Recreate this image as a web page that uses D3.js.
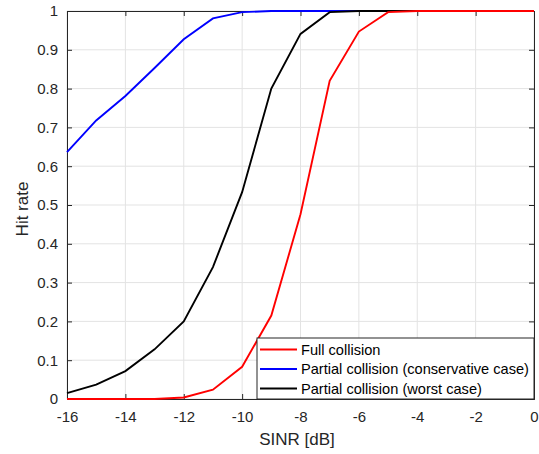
<!DOCTYPE html>
<html><head><meta charset="utf-8">
<script src="https://cdn.jsdelivr.net/npm/d3@7"></script>
<style>body{margin:0;background:#fff}svg{display:block}text{font-family:"Liberation Sans",Arial,sans-serif}</style>
</head><body><svg id="c" width="539" height="454"></svg>
<script>
const sinr = [-16,-15,-14,-13,-12,-11,-10,-9,-8,-7,-6,-5,-4,-3,-2,-1,0];
const fullCollision = [0,0,0,0,0.004,0.024,0.083,0.215,0.476,0.82,0.947,0.997,1,1,1,1,1];
const partialConservative = [0.636,0.718,0.781,0.853,0.927,0.981,0.997,1,1,1,1,1,1,1,1,1,1];
const partialWorst = [0.015,0.037,0.072,0.128,0.2,0.34,0.533,0.80,0.941,0.997,1,1,1,1,1,1,1];
const xTicks = [-16,-14,-12,-10,-8,-6,-4,-2,0];
const yTicks = [0,0.1,0.2,0.3,0.4,0.5,0.6,0.7,0.8,0.9,1];
const seriesNames = ["Full collision","Partial collision (conservative case)","Partial collision (worst case)"];
const seriesColors = ["#ff0000","#0000ff","#000000"];
const seriesData = [fullCollision, partialConservative, partialWorst];

const svg = d3.select("#c");
const L=67,R=534,T=11,B=399;
const x = d3.scaleLinear().domain([-16,0]).range([L,R]);
const y = d3.scaleLinear().domain([0,1]).range([B,T]);

// grid
svg.append("g").selectAll("line").data(xTicks).join("line")
  .attr("x1",d=>x(d)).attr("x2",d=>x(d)).attr("y1",T).attr("y2",B)
  .attr("stroke","#e3e3e3").attr("stroke-width",1);
svg.append("g").selectAll("line").data(yTicks).join("line")
  .attr("y1",d=>y(d)).attr("y2",d=>y(d)).attr("x1",L).attr("x2",R)
  .attr("stroke","#e3e3e3").attr("stroke-width",1);

// axes
const ax = svg.append("g").attr("transform",`translate(0,${B})`)
  .call(d3.axisBottom(x).tickValues(xTicks).tickSize(-5).tickPadding(12).tickFormat(d=>String(d)));
const ay = svg.append("g").attr("transform",`translate(${L},0)`)
  .call(d3.axisLeft(y).tickValues(yTicks).tickSize(-5).tickPadding(9).tickFormat(d=>d===0||d===1?String(d):d.toFixed(1)));
const axT = svg.append("g").attr("transform",`translate(0,${T})`)
  .call(d3.axisTop(x).tickValues(xTicks).tickSize(-5).tickFormat(""));
const ayR = svg.append("g").attr("transform",`translate(${R},0)`)
  .call(d3.axisRight(y).tickValues(yTicks).tickSize(-5).tickFormat(""));
[ax,ay,axT,ayR].forEach(g=>{
  g.selectAll("path").attr("stroke","#262626").attr("stroke-width",1);
  g.selectAll("line").attr("stroke","#262626");
  g.selectAll("text").attr("fill","#262626").style("font-size","15px").style("font-family","'Liberation Sans',Arial,sans-serif");
});

// lines
const line = d3.line().x((d,i)=>x(sinr[i])).y(d=>y(d));
const order=[1,2,0];
order.forEach(k=>{
  svg.append("path").datum(seriesData[k]).attr("d",line)
    .attr("fill","none").attr("stroke",seriesColors[k]).attr("stroke-width",1.9);
});

// legend
const lg = svg.append("g");
lg.append("rect").attr("x",257).attr("y",338).attr("width",R-257).attr("height",B-338)
  .attr("fill","#fff").attr("stroke","#262626").attr("stroke-width",1);
seriesNames.forEach((n,i)=>{
  const yy=349.5+i*19.5;
  lg.append("line").attr("x1",260).attr("x2",297).attr("y1",yy).attr("y2",yy)
    .attr("stroke",seriesColors[i]).attr("stroke-width",1.9);
  lg.append("text").attr("x",301).attr("y",yy).attr("dy","0.35em").text(n)
    .style("font-size","14.6px").attr("fill","#000");
});

// titles
svg.append("text").attr("x",297).attr("y",445).attr("text-anchor","middle")
  .style("font-size","17px").attr("fill","#262626").text("SINR [dB]");
svg.append("text").attr("transform",`translate(28,209) rotate(-90)`).attr("text-anchor","middle")
  .style("font-size","17px").attr("fill","#262626").text("Hit rate");
</script></body></html>
